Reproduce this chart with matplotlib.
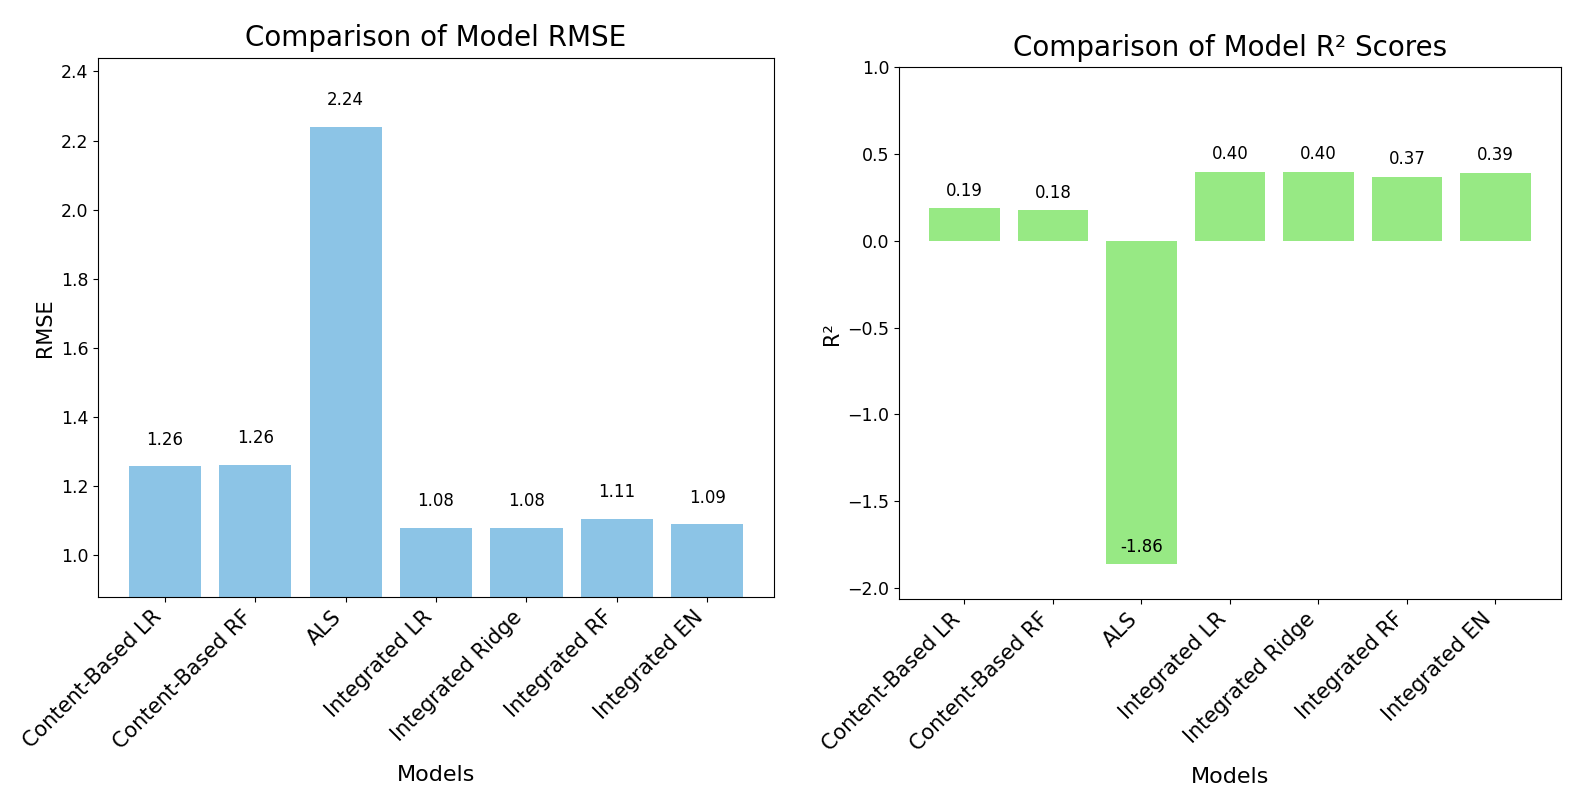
import matplotlib
matplotlib.use('Agg')
import matplotlib.pyplot as plt
import numpy as np

# Model names and scores
models = ['Content-Based LR', 'Content-Based RF', 'ALS', 'Integrated LR',
          'Integrated Ridge', 'Integrated RF', 'Integrated EN']
rmse = [1.258, 1.262, 2.24, 1.08, 1.08, 1.106, 1.09]
r2 = [0.187, 0.176, -1.865, 0.398, 0.398, 0.368, 0.392]

fig = plt.figure(figsize=(15.92, 8), dpi=100)
ax1 = fig.add_axes([0.0616, 0.254, 0.4246, 0.674])
ax2 = fig.add_axes([0.5647, 0.251, 0.4158, 0.665])

x = np.arange(len(models))

# RMSE chart
ax1.bar(x, rmse, color='#8cc4e6')
for xi, v in zip(x, rmse):
    ax1.text(xi, v + 0.05, f'{v:.2f}', ha='center', va='bottom', fontsize=12)
ax1.set_ylim(min(rmse) - 0.2, max(rmse) + 0.2)
ax1.set_title('Comparison of Model RMSE', fontsize=20, pad=8)
ax1.set_xlabel('Models', fontsize=16, labelpad=9)
ax1.set_ylabel('RMSE', fontsize=15)
ax1.set_xticks(x)
ax1.set_xticklabels(models, rotation=45, ha='right', fontsize=15)
ax1.tick_params(axis='y', labelsize=12.5)

# R2 chart
ax2.bar(x, r2, color='#97e984')
for xi, v in zip(x, r2):
    ax2.text(xi, v + 0.05, f'{v:.2f}', ha='center', va='bottom', fontsize=12)
ax2.set_ylim(min(r2) - 0.2, 1.0)
ax2.set_title('Comparison of Model R² Scores', fontsize=20, pad=8)
ax2.set_xlabel('Models', fontsize=16, labelpad=9)
ax2.set_ylabel('R²', fontsize=15)
ax2.set_xticks(x)
ax2.set_xticklabels(models, rotation=45, ha='right', fontsize=15)
ax2.tick_params(axis='y', labelsize=12.5)

plt.savefig('out.png', dpi=100)
plt.close()
